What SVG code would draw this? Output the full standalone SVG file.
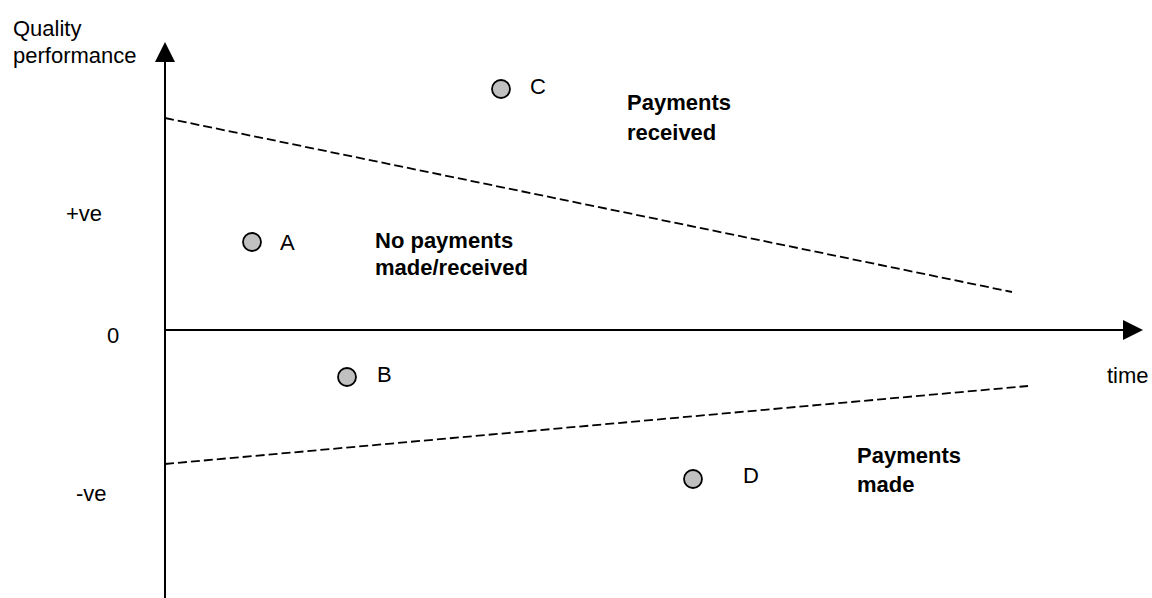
<svg xmlns="http://www.w3.org/2000/svg" width="1152" height="598" viewBox="0 0 1152 598">
<style>
text{font-family:"Liberation Sans",Arial,sans-serif;fill:#000;font-size:22px}
.b{font-weight:bold}
.axis{stroke:#000;stroke-width:2;fill:none}
.dash{stroke:#000;stroke-width:1.8;stroke-dasharray:9 4;fill:none}
.pt{fill:#c0c0c0;stroke:#000;stroke-width:1.8}
</style>
<rect width="1152" height="598" fill="#fff"/>
<g id="connectors">
<line class="axis" x1="165" y1="598" x2="165" y2="60"/>
<polygon points="165,42 155,62 175,62" fill="#000"/>
<line class="axis" x1="165" y1="330" x2="1125" y2="330"/>
<polygon points="1143,330 1123,320 1123,340" fill="#000"/>
<line class="dash" x1="165" y1="118" x2="1012" y2="292"/>
<line class="dash" x1="165" y1="464" x2="1028" y2="386"/>
</g>
<g id="axis-labels">
<text x="13" y="36">Quality</text>
<text x="13" y="63">performance</text>
<text x="66" y="221">+ve</text>
<text x="107" y="343">0</text>
<text x="76" y="501">-ve</text>
<text x="1107" y="383">time</text>
</g>
<g id="pointA"><circle class="pt" cx="252" cy="242" r="9"/><text x="280" y="250">A</text></g>
<g id="pointB"><circle class="pt" cx="347" cy="377" r="9"/><text x="377" y="382">B</text></g>
<g id="pointC"><circle class="pt" cx="501" cy="89" r="9"/><text x="530" y="94">C</text></g>
<g id="pointD"><circle class="pt" cx="693" cy="479" r="9"/><text x="743" y="483">D</text></g>
<g id="region-none"><text class="b" x="375" y="248">No payments</text><text class="b" x="375" y="275">made/received</text></g>
<g id="region-received"><text class="b" x="627" y="110">Payments</text><text class="b" x="627" y="140">received</text></g>
<g id="region-made"><text class="b" x="857" y="463">Payments</text><text class="b" x="857" y="492">made</text></g>
</svg>
